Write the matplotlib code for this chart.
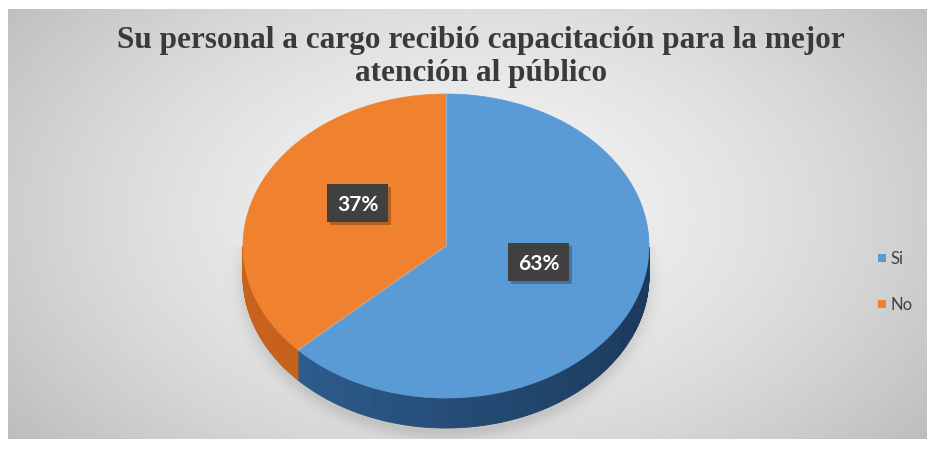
import numpy as np
import matplotlib
matplotlib.use("Agg")
import matplotlib.pyplot as plt
from matplotlib.patches import Polygon, Rectangle
from matplotlib.colors import to_rgb

# ---- data ----
categories = ["Si", "No"]
values = [63, 37]
top_colors = ["#5B9BD5", "#F0822F"]
side_colors_light = ["#2F6094", "#C8631C"]
side_colors_dark = ["#1B3A5C", "#A9510F"]
title = "Su personal a cargo recibió capacitación para la mejor\natención al público"

W, H = 928, 452
fig = plt.figure(figsize=(W / 100, H / 100), dpi=100)
ax = fig.add_axes([0, 0, 1, 1])
ax.set_xlim(0, W)
ax.set_ylim(H, 0)
ax.axis("off")
fig.patch.set_facecolor("white")

# ---- chart area background: radial grey gradient with soft pie shadow ----
x0, y0, x1, y1 = 8, 10, W, 440
gx, gy = np.meshgrid(np.arange(x0, x1) + 0.5, np.arange(y0, y1) + 0.5)
d = np.sqrt(((gx - 470) / 520) ** 2 + ((gy - 215) / 330) ** 2)
bg = 0.955 - 0.18 * np.clip(d, 0, 1.3) ** 1.6
cx, cy, rx, ry, depth = 446, 247, 203, 152, 30
ds = np.sqrt(((gx - cx) / (rx + 8)) ** 2 + ((gy - cy - depth - 4) / (ry + 10)) ** 2)
bg -= 0.10 * np.exp(-((np.clip(ds - 0.93, 0, None)) / 0.06) ** 2) * (gy > cy)
img = np.dstack([bg, bg, bg])
ax.imshow(img, extent=(x0, x1, y1, y0), interpolation="bilinear", zorder=0)

# ---- 3D pie ----
def pt(t, dz=0.0):
    return cx + rx * np.cos(t), cy - ry * np.sin(t) + dz

fracs = np.array(values, dtype=float) / sum(values)
bounds = []
a = np.pi / 2
for f in fracs:
    bounds.append((a - 2 * np.pi * f, a))   # clockwise from top
    a -= 2 * np.pi * f

# side walls (only the front half, sin(t) < 0)
for (lo, hi), cl, cd in zip(bounds, side_colors_light, side_colors_dark):
    ts = np.linspace(lo, hi, 400)
    ts = ts[np.sin(ts) < 0.0]
    if len(ts) < 2:
        continue
    cl, cd = np.array(to_rgb(cl)), np.array(to_rgb(cd))
    for i in range(len(ts) - 1):
        ta, tb = ts[i], ts[i + 1]
        xa, ya = pt(ta)
        xb, yb = pt(tb)
        s = (np.cos((ta + tb) / 2) + 1) / 2
        col = cl * (1 - s) + cd * s
        ax.add_patch(Polygon([(xa, ya), (xb, yb), (xb, yb + depth), (xa, ya + depth)],
                             closed=True, facecolor=col, edgecolor=col, lw=0.6, zorder=2))

# top faces
for (lo, hi), col in zip(bounds, top_colors):
    ts = np.linspace(lo, hi, 300)
    xs, ys = pt(ts)
    verts = [(cx, cy)] + list(zip(xs, ys))
    ax.add_patch(Polygon(verts, closed=True, facecolor=col, edgecolor=col, lw=0.5, zorder=3))
for lo, hi in bounds:
    xe, ye = pt(hi)
    ax.plot([cx, xe], [cy, ye], color="#9DC3E6", lw=0.8, alpha=0.6, zorder=4)

# ---- value labels in dark boxes ----
label_pos = [(539, 263), (358, 204)]
for v, (lx, ly) in zip(values, label_pos):
    bw, bh = 61, 38
    ax.add_patch(Rectangle((lx - bw / 2 + 3, ly - bh / 2 + 3), bw, bh,
                           facecolor="black", alpha=0.25, lw=0, zorder=5))
    ax.add_patch(Rectangle((lx - bw / 2, ly - bh / 2), bw, bh,
                           facecolor="#404040", lw=0, zorder=6))
    ax.text(lx, ly + 1, f"{v}%", ha="center", va="center", color="white",
            fontsize=15, fontweight="bold", family="Lato", zorder=7)

# ---- title ----
ax.text(481, 57, title, ha="center", va="center", color="#3A3A3A",
        fontsize=22.5, fontweight="bold", family="Liberation Serif",
        linespacing=1.2, zorder=8)

# ---- legend ----
leg_y = [259, 305]
for cat, col, ly in zip(categories, top_colors, leg_y):
    ax.add_patch(Rectangle((878, ly - 4), 8, 8, facecolor=col, lw=0, zorder=8))
    ax.text(891, ly, cat, ha="left", va="center", color="#404040",
            fontsize=12, family="Lato", zorder=8)

fig.savefig("out.png", dpi=100, facecolor="white")
